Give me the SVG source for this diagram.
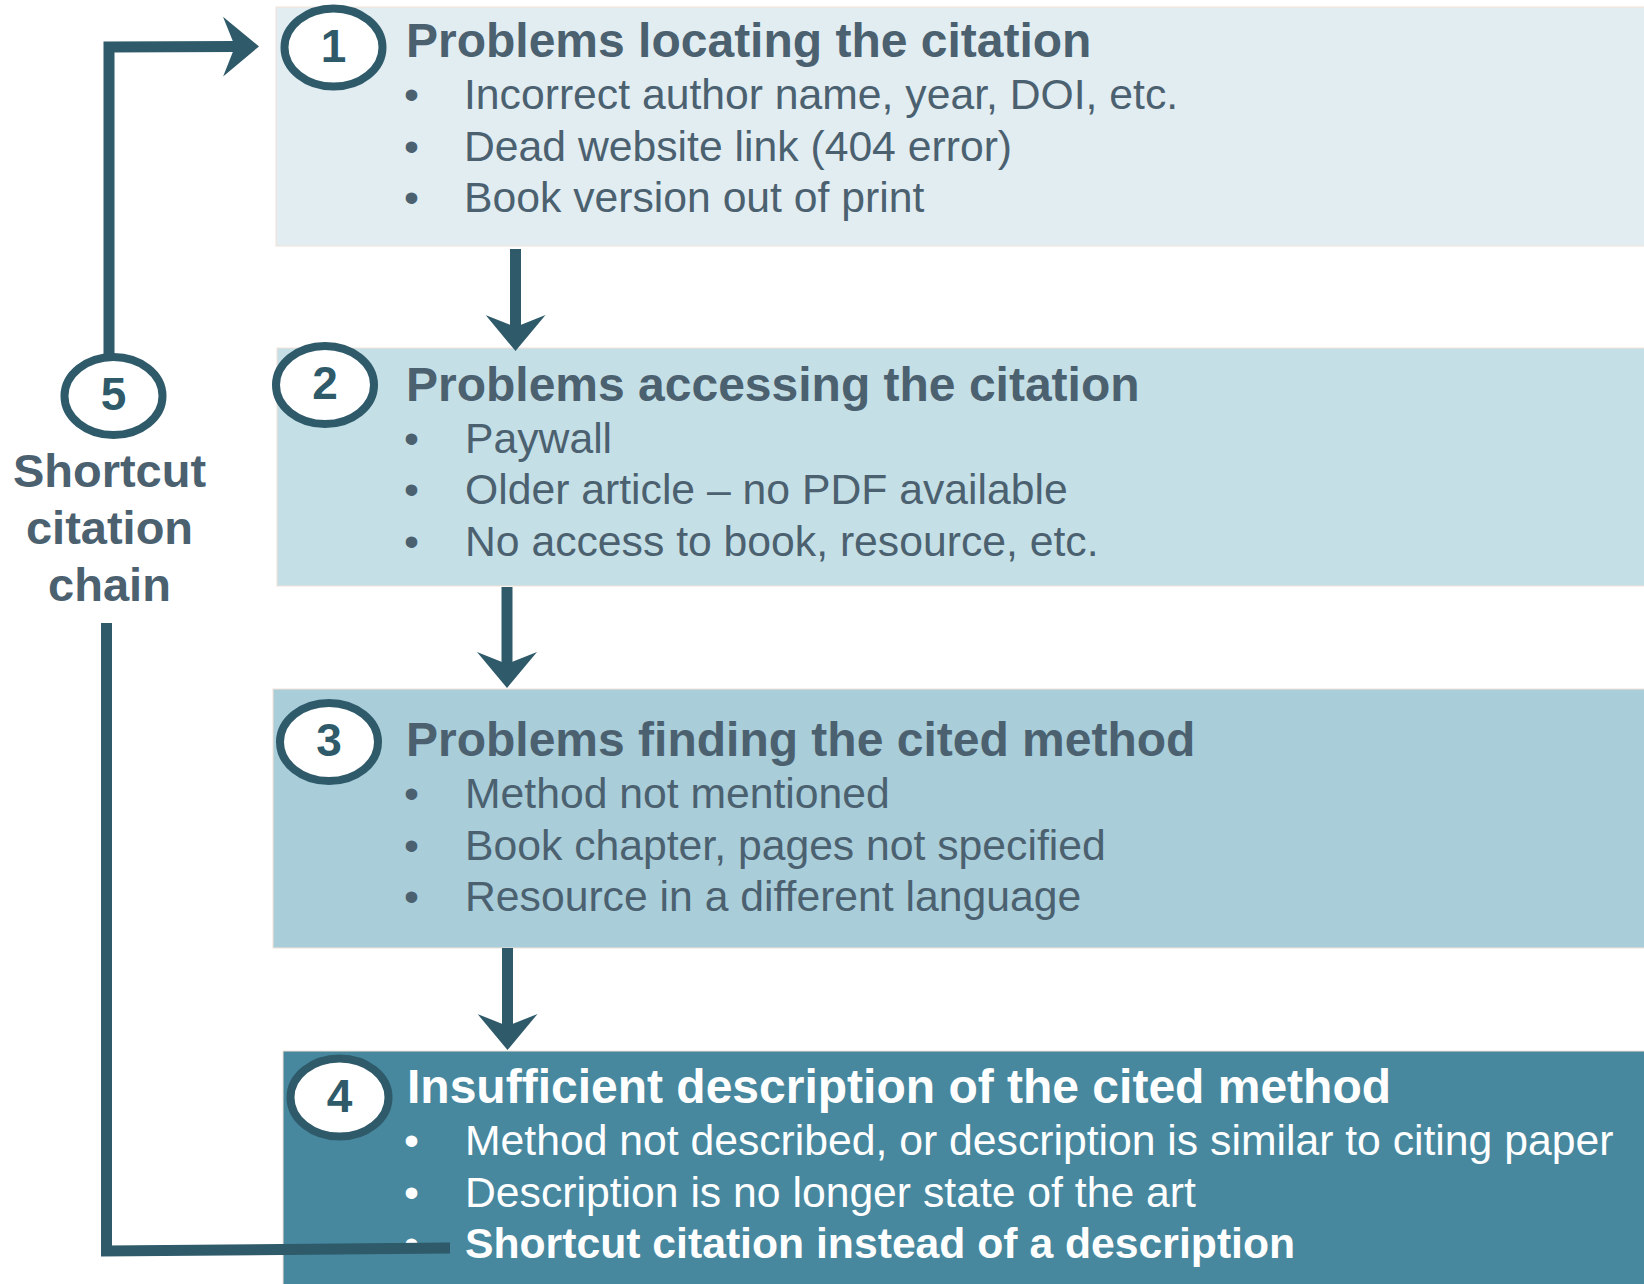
<svg xmlns="http://www.w3.org/2000/svg" width="1644" height="1284" viewBox="0 0 1644 1284">
<style>
  .box { stroke: #F1E2D6; stroke-width: 1; }
  .title { font-family: "Liberation Sans", Arial, sans-serif; font-weight: bold; font-size: 48px; fill: #4B6170; }
  .item { font-family: "Liberation Sans", Arial, sans-serif; font-size: 42.7px; fill: #4B6170; }
  .w { fill: #FFFFFF; }
  .num { font-family: "Liberation Sans", Arial, sans-serif; font-weight: bold; font-size: 46px; fill: #2E5A6A; text-anchor: middle; }
  .badge { fill: #FFFFFF; stroke: #2E5A6A; stroke-width: 8; }
  .conn { fill: none; stroke: #2E5A6A; stroke-width: 11; stroke-linejoin: miter; stroke-linecap: butt; }
  .label { font-family: "Liberation Sans", Arial, sans-serif; font-weight: bold; font-size: 47px; fill: #4B6170; text-anchor: middle; }
</style>
<defs>
  <marker id="head" markerUnits="userSpaceOnUse" viewBox="0 0 36 60" markerWidth="36" markerHeight="60" refX="12" refY="30" orient="auto">
    <path d="M0,0 L36,30 L0,60 L12,30 Z" fill="#2E5A6A"/>
  </marker>
</defs>
<rect width="1644" height="1284" fill="#FFFFFF"/>

<g id="node1">
  <rect class="box" x="276" y="7" width="1380" height="239" fill="#E2EDF2"/>
  <text class="title" x="406" y="57">Problems locating the citation</text>
  <text class="item" x="404" y="109">•</text>
  <text class="item" x="464" y="109">Incorrect author name, year, DOI, etc.</text>
  <text class="item" x="404" y="161">•</text>
  <text class="item" x="464" y="161">Dead website link (404 error)</text>
  <text class="item" x="404" y="212">•</text>
  <text class="item" x="464" y="212">Book version out of print</text>
  <ellipse class="badge" cx="333.5" cy="47.5" rx="49" ry="39"/>
  <text class="num" x="333.5" y="62">1</text>
</g>

<g id="node2">
  <rect class="box" x="277" y="348" width="1380" height="238" fill="#C5DFE6"/>
  <text class="title" x="406" y="401">Problems accessing the citation</text>
  <text class="item" x="404" y="453">•</text>
  <text class="item" x="465" y="453">Paywall</text>
  <text class="item" x="404" y="504">•</text>
  <text class="item" x="465" y="504">Older article – no PDF available</text>
  <text class="item" x="404" y="556">•</text>
  <text class="item" x="465" y="556">No access to book, resource, etc.</text>
  <ellipse class="badge" cx="325" cy="385" rx="49" ry="39"/>
  <text class="num" x="325" y="399">2</text>
</g>

<g id="node3">
  <rect class="box" x="273" y="689" width="1380" height="259" fill="#A9CDD9"/>
  <text class="title" x="406" y="756">Problems finding the cited method</text>
  <text class="item" x="404" y="808">•</text>
  <text class="item" x="465" y="808">Method not mentioned</text>
  <text class="item" x="404" y="860">•</text>
  <text class="item" x="465" y="860">Book chapter, pages not specified</text>
  <text class="item" x="404" y="911">•</text>
  <text class="item" x="465" y="911">Resource in a different language</text>
  <ellipse class="badge" cx="329" cy="742" rx="49" ry="39"/>
  <text class="num" x="329" y="756">3</text>
</g>

<g id="node4">
  <rect class="box" x="283" y="1051" width="1380" height="250" fill="#47889F" stroke="#E8C3A3"/>
  <text class="title w" x="407" y="1103">Insufficient description of the cited method</text>
  <text class="item w" x="404" y="1155">•</text>
  <text class="item w" x="465" y="1155">Method not described, or description is similar to citing paper</text>
  <text class="item w" x="404" y="1207">•</text>
  <text class="item w" x="465" y="1207">Description is no longer state of the art</text>
  <text class="item w" x="404" y="1258">•</text>
  <text class="item w" x="465" y="1258" font-weight="bold">Shortcut citation instead of a description</text>
  <ellipse class="badge" cx="339.5" cy="1097.5" rx="49" ry="39"/>
  <text class="num" x="339.5" y="1112">4</text>
</g>

<g id="node5">
  <ellipse class="badge" cx="113.5" cy="396" rx="49" ry="39"/>
  <text class="num" x="113.5" y="410">5</text>
  <text class="label" x="109.5" y="487">Shortcut</text>
  <text class="label" x="109.5" y="544">citation</text>
  <text class="label" x="109.5" y="601">chain</text>
</g>

<g id="connectors">
  <line class="conn" x1="515.5" y1="249" x2="515.5" y2="327" marker-end="url(#head)"/>
  <line class="conn" x1="507" y1="587" x2="507" y2="664" marker-end="url(#head)"/>
  <line class="conn" x1="507.5" y1="948" x2="507.5" y2="1026" marker-end="url(#head)"/>
  <polyline class="conn" points="109,354 109,47 235,46.5" marker-end="url(#head)"/>
  <polyline class="conn" points="106.5,623 106.5,1251 450,1248"/>
</g>
</svg>
